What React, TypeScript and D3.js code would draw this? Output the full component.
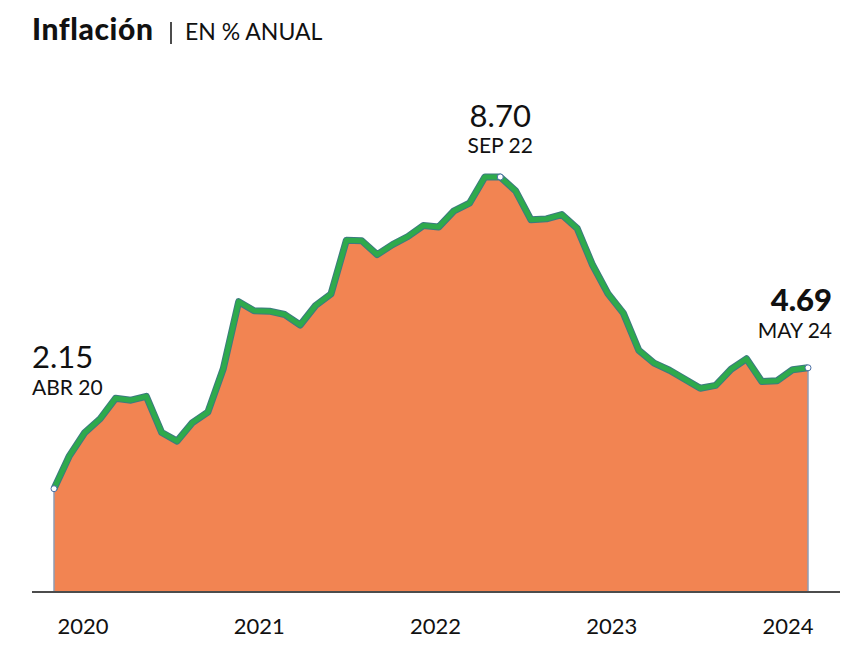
import React from 'react';
import * as d3 from 'd3';

// inflación anual, abr 2020 - may 2024
const months = [
  'ABR 20', 'MAY 20', 'JUN 20', 'JUL 20', 'AGO 20', 'SEP 20', 'OCT 20', 'NOV 20', 'DIC 20',
  'ENE 21', 'FEB 21', 'MAR 21', 'ABR 21', 'MAY 21', 'JUN 21', 'JUL 21', 'AGO 21', 'SEP 21', 'OCT 21', 'NOV 21', 'DIC 21',
  'ENE 22', 'FEB 22', 'MAR 22', 'ABR 22', 'MAY 22', 'JUN 22', 'JUL 22', 'AGO 22', 'SEP 22', 'OCT 22', 'NOV 22', 'DIC 22',
  'ENE 23', 'FEB 23', 'MAR 23', 'ABR 23', 'MAY 23', 'JUN 23', 'JUL 23', 'AGO 23', 'SEP 23', 'OCT 23', 'NOV 23', 'DIC 23',
  'ENE 24', 'FEB 24', 'MAR 24', 'ABR 24', 'MAY 24',
];
const inflation = [
  2.15, 2.84, 3.33, 3.62, 4.05, 4.01, 4.09, 3.33, 3.15,
  3.54, 3.76, 4.67, 6.08, 5.89, 5.88, 5.81, 5.59, 6.0, 6.24, 7.37, 7.36,
  7.07, 7.28, 7.45, 7.68, 7.65, 7.99, 8.15, 8.7, 8.7, 8.41, 7.8, 7.82,
  7.91, 7.62, 6.85, 6.25, 5.84, 5.06, 4.79, 4.64, 4.45, 4.26, 4.32, 4.66,
  4.88, 4.4, 4.42, 4.65, 4.69,
];
const yearLabels = ['2020', '2021', '2022', '2023', '2024'];

const FONT = 'Lato, "Noto Sans", sans-serif';

export default function App() {
  const data = inflation.map((v, i) => ({ label: months[i], value: v, i }));

  const x = d3.scaleLinear().domain([0, data.length - 1]).range([54, 808]);
  const y = d3.scaleLinear().domain([0, 8.7]).range([591, 177]);
  const xYear = d3.scalePoint<string>().domain(yearLabels).range([83, 788]);

  const area = d3.area<any>().x(d => x(d.i)).y0(y(0)).y1(d => y(d.value));
  const line = d3.line<any>().x(d => x(d.i)).y(d => y(d.value));

  const first = data[0];
  const last = data[data.length - 1];
  const peakIdx = 29; // SEP 22
  const peak = data[peakIdx];

  return (
    <div style={{ position: 'absolute', left: 0, top: 0 }}>
      <svg width={864} height={666} style={{ display: 'block', background: '#fff' }}>
        {/* title */}
        <text x={32} y={40} fontFamily={FONT} fontWeight={900} fontSize={30} letterSpacing={0.6} fill="#111">
          Inflación
        </text>
        <line x1={171} x2={171} y1={22} y2={44} stroke="#111" strokeWidth={1.5} />
        <text x={185} y={40} fontFamily={FONT} fontSize={23} fill="#111">
          EN % ANUAL
        </text>

        {/* area */}
        <path d={area(data) || ''} fill="#F28452" />
        <line x1={x(first.i)} x2={x(first.i)} y1={y(0)} y2={y(first.value)} stroke="#8e9db5" strokeWidth={1.5} />
        <line x1={x(last.i)} x2={x(last.i)} y1={y(0)} y2={y(last.value)} stroke="#8e9db5" strokeWidth={1.5} />

        {/* line */}
        <path d={line(data) || ''} fill="none" stroke="#3d7a80" strokeWidth={7} strokeLinejoin="round" />
        <path d={line(data) || ''} fill="none" stroke="#2EAA4C" strokeWidth={5} strokeLinejoin="round" />

        {/* markers */}
        {[first, peak, last].map(d => (
          <circle key={d.label} cx={x(d.i)} cy={y(d.value)} r={3} fill="#fff" stroke="#4a6fa5" strokeWidth={1} />
        ))}

        {/* baseline */}
        <line x1={32} x2={840} y1={592} y2={592} stroke="#111" strokeWidth={1.5} />

        {/* year labels */}
        {yearLabels.map(yr => (
          <text key={yr} x={xYear(yr)} y={634} textAnchor="middle" fontFamily={FONT} fontSize={22} fill="#111">
            {yr}
          </text>
        ))}

        {/* annotations */}
        <text x={32} y={368} fontFamily={FONT} fontSize={31} fill="#111">
          {first.value.toFixed(2)}
        </text>
        <text x={32} y={395} fontFamily={FONT} fontSize={21} fill="#111">
          {first.label}
        </text>

        <text x={x(peak.i)} y={127} textAnchor="middle" fontFamily={FONT} fontSize={31} fill="#111">
          {peak.value.toFixed(2)}
        </text>
        <text x={x(peak.i)} y={153} textAnchor="middle" fontFamily={FONT} fontSize={21} fill="#111">
          {peak.label}
        </text>

        <text x={832} y={311} textAnchor="end" fontFamily={FONT} fontWeight={900} fontSize={31} fill="#111">
          {last.value.toFixed(2)}
        </text>
        <text x={832} y={338} textAnchor="end" fontFamily={FONT} fontSize={21} fill="#111">
          {last.label}
        </text>
      </svg>
    </div>
  );
}
